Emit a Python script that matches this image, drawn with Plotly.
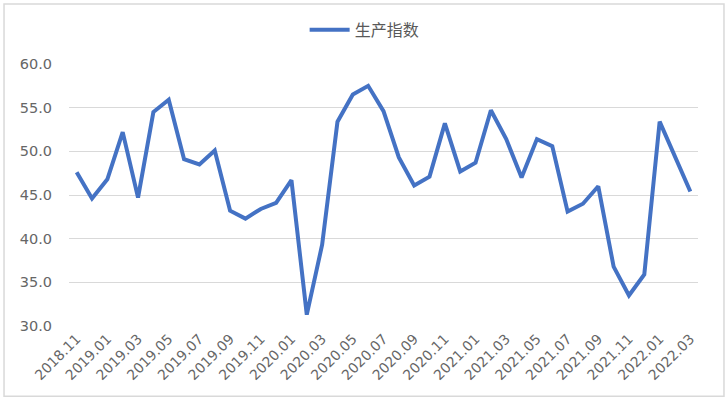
import plotly.graph_objects as go

months = []
y, m = 2018, 11
for _ in range(41):
    months.append(f"{y}.{m:02d}")
    m += 1
    if m > 12:
        m = 1
        y += 1

values = [47.6, 44.6, 46.8, 52.2, 44.7, 54.5, 55.9, 49.1, 48.5, 50.1,
          43.2, 42.3, 43.4, 44.1, 46.7, 31.3, 39.3, 53.4, 56.5, 57.5,
          54.6, 49.3, 46.1, 47.1, 53.2, 47.7, 48.7, 54.7, 51.4, 47.0,
          51.4, 50.6, 43.1, 44.0, 46.0, 36.8, 33.5, 35.9, 53.4, 49.3, 45.4]

tick_labels = months[::2]
series_name = "生产指数"

font_family = "Noto Sans CJK SC, Noto Sans, sans-serif"
tick_family = "DejaVu Sans, sans-serif"
gray = "#595959"

fig = go.Figure()
fig.add_trace(go.Scatter(
    x=list(range(len(months))), y=values, mode="lines", name=series_name,
    line=dict(color="#4472C4", width=4, shape="linear"),
))

fig.update_layout(
    width=728, height=403,
    margin=dict(l=69, r=30, t=64, b=76.5),
    paper_bgcolor="white", plot_bgcolor="white",
    font=dict(family=font_family, color=gray, size=14),
    showlegend=True,
    legend=dict(orientation="h", x=0.47, xanchor="center", y=1.13, yanchor="middle",
                font=dict(size=16, color=gray), itemwidth=40),
    xaxis=dict(
        range=[-0.5, 40.5], tickmode="array",
        tickvals=list(range(0, len(months), 2)), ticktext=tick_labels,
        tickangle=-45, showgrid=False, zeroline=False, showline=False,
        tickfont=dict(family=tick_family, size=14, color="#666666"), ticks="",
        automargin=False, ticklabelstandoff=1,
    ),
    yaxis=dict(
        range=[30, 60], dtick=5, tickformat=".1f", showgrid=True,
        gridcolor="#D9D9D9", gridwidth=1, zeroline=False, showline=False,
        tickfont=dict(family=tick_family, size=14.5, color="#666666"),
        ticklabelstandoff=16, automargin=False,
    ),
    shapes=[dict(type="rect", xref="paper", yref="paper",
                 x0=-0.1033, x1=1.0413, y0=-0.2686, y1=1.2286,
                 line=dict(color="#D9D9D9", width=1.5), layer="below")],
)

fig.write_html("out.html", post_script="document.body.style.margin='0';",
               config={"displayModeBar": False})
